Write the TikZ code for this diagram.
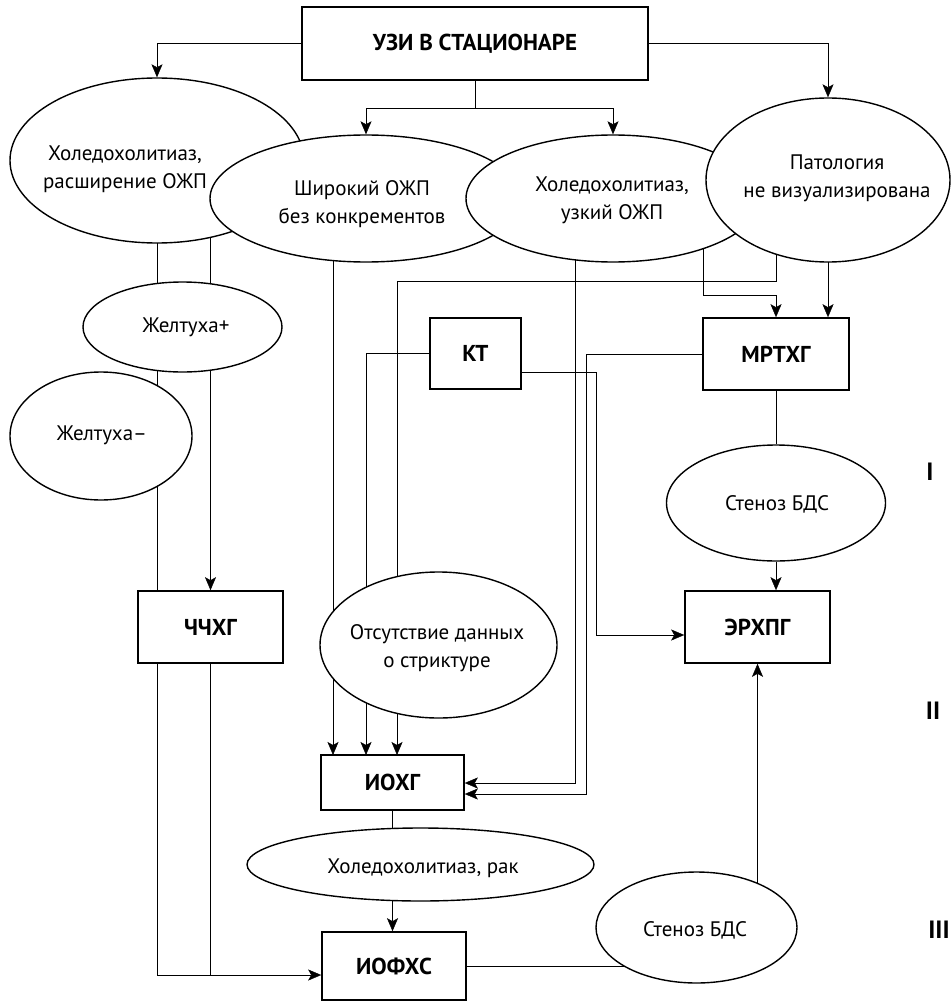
\documentclass[tikz,border=0pt]{standalone}
\usepackage{fontspec}
\setmainfont{PT Sans}
\usetikzlibrary{shapes.geometric,arrows.meta,backgrounds,calc}
\begin{document}
\begin{tikzpicture}[x=1pt,y=-1pt,line width=1.4pt,
  box/.style={draw,fill=white,rectangle,inner sep=0pt,line width=1.6pt,font=\fontsize{23}{26}\selectfont\bfseries},
  ell/.style={draw,fill=white,ellipse,inner sep=0pt},
  etxt/.style={align=center,inner sep=0pt,font=\fontsize{21}{28}\selectfont},
  rom/.style={inner sep=0pt,font=\fontsize{25}{28}\selectfont\bfseries},
  arr/.style={-{Stealth[length=13pt,width=11pt,inset=3pt]}}]
\useasboundingbox (0,0) rectangle (951,1003);

% boxes and ellipses
\node[box,minimum width=346pt,minimum height=73pt] (uzi) at (475,43.5) {УЗИ В СТАЦИОНАРЕ};
\node[ell,minimum width=294pt,minimum height=165pt] (e1) at (157,160.5) {};
\node[ell,minimum width=312pt,minimum height=127pt] (e2) at (366,198.5) {};
\node[ell,minimum width=294pt,minimum height=127pt] (e3) at (613,198.5) {};
\node[ell,minimum width=244pt,minimum height=164pt] (e4) at (828,180) {};
\node[ell,minimum width=199pt,minimum height=90pt] (zp) at (182.5,327) {};
\node[ell,minimum width=182pt,minimum height=128pt] (zm) at (101,436) {};
\node[box,minimum width=91pt,minimum height=71pt] (kt) at (475.5,353.5) {КТ};
\node[box,minimum width=146pt,minimum height=72pt] (mr) at (776,354) {МРТХГ};
\node[ell,minimum width=219pt,minimum height=116pt] (st1) at (776,503) {};
\node[box,minimum width=145pt,minimum height=72pt] (chx) at (210.5,627) {ЧЧХГ};
\node[ell,minimum width=237pt,minimum height=146pt] (ot) at (438.5,645) {};
\node[box,minimum width=145pt,minimum height=72pt] (erx) at (757.5,627) {ЭРХПГ};
\node[box,minimum width=143pt,minimum height=55pt] (iohg) at (392.5,782.5) {ИОХГ};
\node[ell,minimum width=347pt,minimum height=73pt] (rak) at (420.5,864.5) {};
\node[box,minimum width=144pt,minimum height=68pt] (iofxs) at (394,966) {ИОФХС};
\node[ell,minimum width=201pt,minimum height=111pt] (st2) at (696.5,927.5) {};

% texts
\node[etxt] (t1) at (125,169) {Холедохолитиаз,\\расширение ОЖП};
\node[etxt] (t2) at (362,204) {Широкий ОЖП\\без конкрементов};
\node[etxt] (t3) at (612,200) {Холедохолитиаз,\\узкий ОЖП};
\node[etxt] (t4) at (837,178) {Патология\\не визуализирована};
\node[etxt] (tzp) at (186,327) {Желтуха+};
\node[etxt] (tzm) at (102,435) {Желтуха–};
\node[etxt] (tst1) at (777,504) {Стеноз БДС};
\node[etxt] (tot) at (437,648) {Отсутствие данных\\о стриктуре};
\node[etxt] (trak) at (423,868) {Холедохолитиаз, рак};
\node[etxt] (tst2) at (695,930) {Стеноз БДС};

\node[rom] (r1) at (930,472) {I};
\node[rom] (r2) at (933,711) {II};
\node[rom] (r3) at (939,930) {III};

% connectors
\begin{scope}[on background layer]
\draw[arr] (uzi.west) -| (e1.north);
\draw[arr] (uzi.east) -| (e4.north);
\coordinate (j1) at (475,108);
\draw (uzi.south) -- (j1);
\draw[arr] (j1) -| (e2.north);
\draw[arr] (j1) -| (e3.north);

\coordinate (a975) at (157,975);
\draw[arr] (e1.center) -- (a975) -- (a975 -| iofxs.west);
\draw[arr] (e1.center -| chx.north) -- (chx.north);
\draw (chx.south) -- (chx.south |- a975);

\coordinate (in1) at (333,755);
\coordinate (in2) at (366,755);
\coordinate (in3) at (397,755);
\draw[arr] (e2.center -| in1) -- (in1);
\draw[arr] (kt.west) -| (in2);
\coordinate (k4) at (776,281);
\draw[arr] (e4.center -| k4) -- (k4) -| (in3);
\coordinate (k3) at (703,295);
\draw[arr] (e3.center -| k3) -- (k3) -| (mr.north);
\draw[arr] (e4.center) -- (e4.center |- mr.north);

\coordinate (v1) at (575,783);
\draw[arr] (e3.center -| v1) -- (v1) -- (v1 -| iohg.east);
\coordinate (v2) at (586,794);
\draw[arr] (mr.west) -| (v2) -- (v2 -| iohg.east);
\coordinate (v3) at (596,372);
\coordinate (v4) at (596,635);
\draw[arr] (kt.east |- v3) -- (v3) -- (v4) -- (v4 -| erx.west);

\draw (mr.south) -- (st1.north);
\draw[arr] (st1.south) -- (st1.south |- erx.north);
\draw (iohg.south) -- (iohg.south |- rak.center);
\draw[arr] (iohg.south |- rak.center) -- (iohg.south |- iofxs.north);
\draw (iofxs.east) -- (st2.center |- iofxs.east);
\draw[arr] (st2.center -| erx.south) -- (erx.south);
\end{scope}
\end{tikzpicture}
\end{document}
